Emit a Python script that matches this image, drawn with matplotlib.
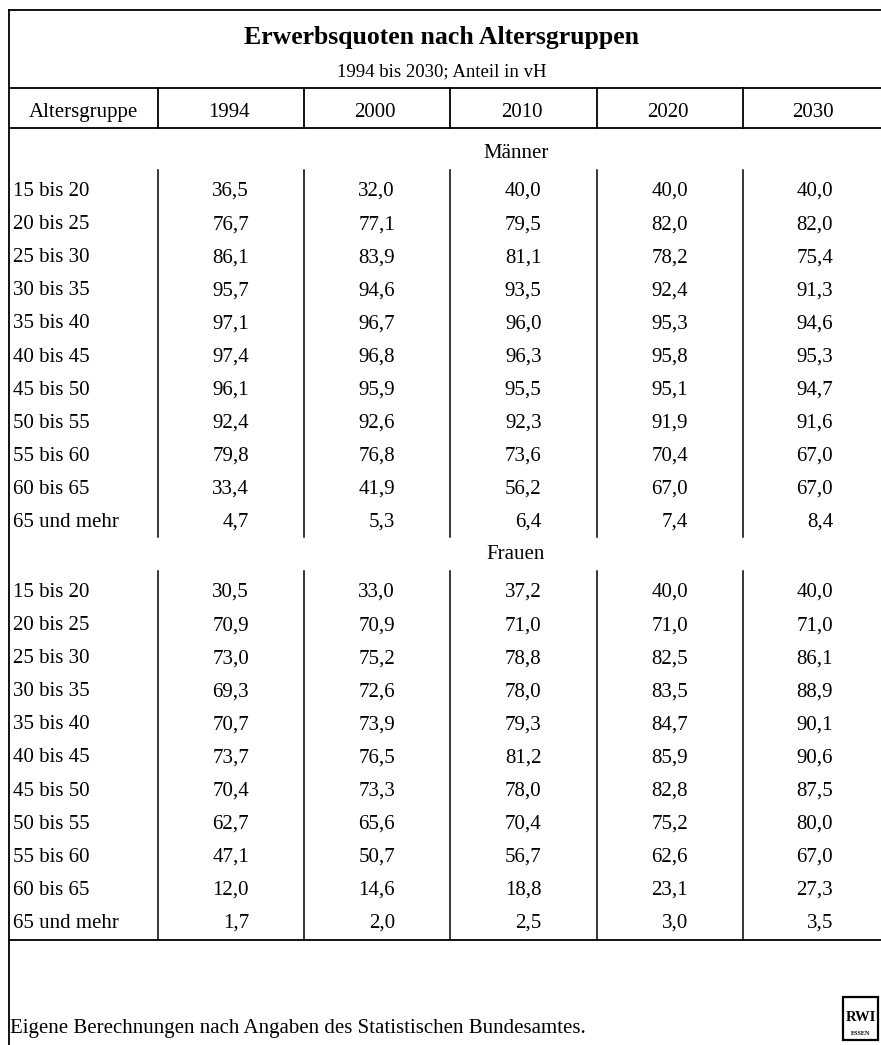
import matplotlib
matplotlib.use("Agg")
import matplotlib.pyplot as plt
from matplotlib.patches import Rectangle

plt.rcParams['font.family'] = ['Liberation Serif', 'DejaVu Serif']

title = "Erwerbsquoten nach Altersgruppen"
subtitle = "1994 bis 2030; Anteil in vH"
first_col = "Altersgruppe"
years = ["1994", "2000", "2010", "2020", "2030"]
age_groups = ["15 bis 20", "20 bis 25", "25 bis 30", "30 bis 35", "35 bis 40",
              "40 bis 45", "45 bis 50", "50 bis 55", "55 bis 60", "60 bis 65",
              "65 und mehr"]
maenner = [
    [36.5, 32.0, 40.0, 40.0, 40.0],
    [76.7, 77.1, 79.5, 82.0, 82.0],
    [86.1, 83.9, 81.1, 78.2, 75.4],
    [95.7, 94.6, 93.5, 92.4, 91.3],
    [97.1, 96.7, 96.0, 95.3, 94.6],
    [97.4, 96.8, 96.3, 95.8, 95.3],
    [96.1, 95.9, 95.5, 95.1, 94.7],
    [92.4, 92.6, 92.3, 91.9, 91.6],
    [79.8, 76.8, 73.6, 70.4, 67.0],
    [33.4, 41.9, 56.2, 67.0, 67.0],
    [4.7, 5.3, 6.4, 7.4, 8.4],
]
frauen = [
    [30.5, 33.0, 37.2, 40.0, 40.0],
    [70.9, 70.9, 71.0, 71.0, 71.0],
    [73.0, 75.2, 78.8, 82.5, 86.1],
    [69.3, 72.6, 78.0, 83.5, 88.9],
    [70.7, 73.9, 79.3, 84.7, 90.1],
    [73.7, 76.5, 81.2, 85.9, 90.6],
    [70.4, 73.3, 78.0, 82.8, 87.5],
    [62.7, 65.6, 70.4, 75.2, 80.0],
    [47.1, 50.7, 56.7, 62.6, 67.0],
    [12.0, 14.6, 18.8, 23.1, 27.3],
    [1.7, 2.0, 2.5, 3.0, 3.5],
]
blocks = [("Männer", maenner), ("Frauen", frauen)]
source = "Eigene Berechnungen nach Angaben des Statistischen Bundesamtes."

W, H = 881, 1045
fig = plt.figure(figsize=(W / 100, H / 100), dpi=100)
ax = fig.add_axes([0, 0, 1, 1])
ax.set_xlim(0, W)
ax.set_ylim(H, 0)
ax.axis('off')

lw = 1.3
left, right = 8.5, 887  # right edge of the table lies just outside the picture
seps = [158, 304, 450, 597, 743]
col_edges = [left] + seps + [right]
centers = [(a + b) / 2 for a, b in zip(col_edges[:-1], col_edges[1:])]
fs = 15

# outer frame and horizontal rules
ax.plot([left, left], [10, H], color='k', lw=lw)
for y in [10, 88, 128, 940]:
    ax.plot([left, W], [y, y], color='k', lw=lw)

mid = 442
ax.text(mid, 44, title, ha='center', va='baseline', fontsize=18.5, fontweight='bold')
ax.text(mid, 76, subtitle, ha='center', va='baseline', fontsize=13.5)

# header row
ax.text(centers[0], 117, first_col, ha='center', va='baseline', fontsize=fs)
for yr, cx in zip(years, centers[1:]):
    ax.text(cx - 2, 117, yr, ha='center', va='baseline', fontsize=fs)
for x in seps:
    ax.plot([x, x], [88, 128], color='k', lw=lw)

row_h = 33.1
block_tops = [158, 559]
for (name, vals), yb in zip(blocks, block_tops):
    ax.text(516, yb, name, ha='center', va='baseline', fontsize=fs)
    first = yb + 38
    last = first + row_h * (len(age_groups) - 1)
    bottom = 940 if name == "Frauen" else last + 10
    for x in seps:
        ax.plot([x, x], [first - 26, bottom], color='k', lw=1.1)
    for r, (grp, row) in enumerate(zip(age_groups, vals)):
        y = first + r * row_h
        ax.text(13, y, grp, ha='left', va='baseline', fontsize=fs)
        for v, cx in zip(row, centers[1:]):
            ax.text(cx + 18, y, f"{v:.1f}".replace('.', ','), ha='right', va='baseline', fontsize=fs)

ax.text(10, 1033, source, ha='left', va='baseline', fontsize=fs)

# RWI logo
ax.add_patch(Rectangle((843, 997), 35, 43, fill=False, lw=1.6, edgecolor='k'))
ax.text(860.5, 1021, "RWI", ha='center', va='baseline', fontsize=10.5, fontweight='bold')
ax.text(860.5, 1035, "ESSEN", ha='center', va='baseline', fontsize=4.5, fontweight='bold')

fig.savefig("out.png", dpi=100)
